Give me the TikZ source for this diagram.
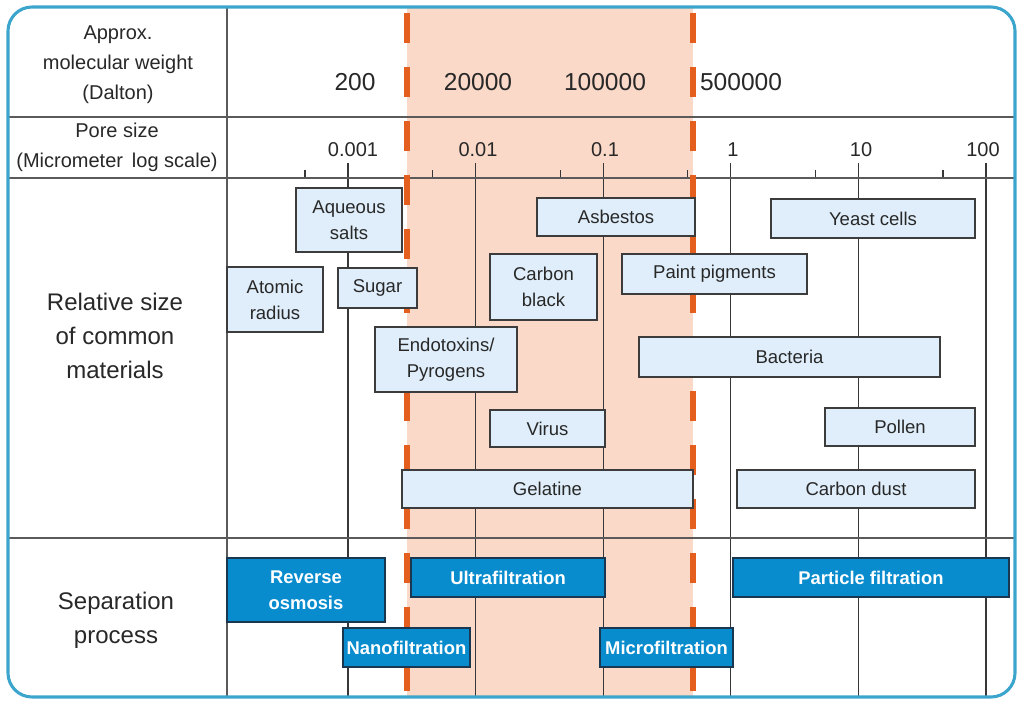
\documentclass[tikz,border=0pt]{standalone}
\usepackage{fontspec}
\setmainfont{Liberation Sans}
\usepackage{xcolor}
\usepackage{tikz}
\usetikzlibrary{positioning}

\definecolor{txt}{RGB}{40,40,40}
\definecolor{gridc}{RGB}{55,55,55}
\definecolor{rulec}{RGB}{90,90,90}
\definecolor{matfill}{RGB}{223,238,250}
\definecolor{boxline}{RGB}{60,60,60}
\definecolor{procfill}{RGB}{8,140,206}
\definecolor{procline}{RGB}{25,55,80}
\definecolor{bandfill}{RGB}{251,217,200}
\definecolor{cutc}{RGB}{228,95,30}
\definecolor{framec}{RGB}{60,165,205}

\begin{document}
\begin{tikzpicture}[
  x=0.75pt, y=-0.75pt,
  sz/.style 2 args={minimum width=#1*0.75pt, minimum height=#2*0.75pt},
  matbox/.style={draw=boxline, fill=matfill, line width=1.1pt, inner sep=0pt,
                 align=center, text=txt, font=\fontsize{13.9}{19.5}\selectfont},
  procbox/.style={draw=procline, fill=procfill, line width=1.1pt, inner sep=0pt,
                  align=center, text=white, font=\fontsize{13.8}{19.5}\selectfont\bfseries},
  hdr/.style={align=center, text=txt, font=\fontsize{15}{22.5}\selectfont},
  side/.style={align=center, text=txt, font=\fontsize{18}{25.5}\selectfont},
  mw/.style={text=txt, font=\fontsize{18.4}{20}\selectfont},
  pore/.style={text=txt, font=\fontsize{15}{18}\selectfont},
  cutline/.style={draw=cutc, line width=3.8pt, dash pattern=on 22.5pt off 18pt},
]

%─── Canvas ──────────────────────────────────────────────────────────────────
\useasboundingbox (0,0) rectangle (1020,702);
\fill[white] (0,0) rectangle (1020,702);

% ultrafiltration band
\fill[bandfill] (407,7) rectangle (693,697);

%─── Log-scale grid ──────────────────────────────────────────────────────────
\foreach \d in {0,...,5} {
  \draw[gridc, line width=0.9pt] ({348+127.6*\d},163) -- ({348+127.6*\d},697);
  \draw[gridc, line width=0.9pt] ({305+127.6*\d},170) -- ({305+127.6*\d},178);
}

% table rules
\draw[rulec, line width=1.5pt] (8,117) -- (1015,117);
\draw[rulec, line width=1.5pt] (8,178) -- (1015,178);
\draw[rulec, line width=1.5pt] (8,538) -- (1015,538);
\draw[rulec, line width=1.5pt] (227,7) -- (227,697);

%─── Header rows ─────────────────────────────────────────────────────────────
\node[hdr] (mwlbl) at (118,65) {Approx.\\molecular weight\\(Dalton)};
\node[mw] (mw1) at (355,82) {200};
\node[mw] (mw2) at (478,82) {20000};
\node[mw] (mw3) at (605,82) {100000};
\node[mw] (mw4) at (741,82) {500000};

\node[hdr] (porelbl) at (117,147) {Pore size\\(Micrometer\, log scale)};
\node[pore] (p1) at (353,150) {0.001};
\node[pore] (p2) at (478,150) {0.01};
\node[pore] (p3) at (605,150) {0.1};
\node[pore] (p4) at (733,150) {1};
\node[pore] (p5) at (861,150) {10};
\node[pore] (p6) at (983,150) {100};

%─── Cut-off lines ───────────────────────────────────────────────────────────
\draw[cutline] (407,13) -- (407,697);
\draw[cutline] (693,13) -- (693,697);

%─── Relative size of common materials ───────────────────────────────────────
\node[side] (matlbl) at (115,336) {Relative size\\of common\\materials};

\node[matbox, sz={106}{64}]  (salts)    at (349,220)   {Aqueous\\salts};
\node[matbox, sz={96}{65}]   (atomic)   at (275,299.5) {Atomic\\radius};
\node[matbox, sz={79}{40}]   (sugar)    at (377.5,288) {Sugar};
\node[matbox, sz={142}{65}]  (endo)     at (446,359.5) {Endotoxins/\\Pyrogens};
\node[matbox, sz={107}{66}]  (cblack)   at (543.5,287) {Carbon\\black};
\node[matbox, sz={158}{38}]  (asbestos) at (616,217)   {Asbestos};
\node[matbox, sz={204}{39}]  (yeast)    at (873,218.5) {Yeast cells};
\node[matbox, sz={185}{40}]  (paint)    at (714.5,274) {Paint pigments};
\node[matbox, sz={301}{40}]  (bact)     at (789.5,357) {Bacteria};
\node[matbox, sz={115}{37}]  (virus)    at (547.5,428.5) {Virus};
\node[matbox, sz={291}{38}]  (gel)      at (547.5,489) {Gelatine};
\node[matbox, sz={150}{38}]  (pollen)   at (900,427)   {Pollen};
\node[matbox, sz={238}{38}]  (cdust)    at (856,489)   {Carbon dust};

%─── Separation process ──────────────────────────────────────────────────────
\node[side] (seplbl) at (116,620) {Separation\\process};

\node[procbox, sz={158}{64}] (ro) at (306,590)     {Reverse\\osmosis};
\node[procbox, sz={194}{39}] (uf) at (508,577.5)   {Ultrafiltration};
\node[procbox, sz={127}{39}] (nf) at (406.5,647.5) {Nanofiltration};
\node[procbox, sz={133}{39}] (mf) at (666.5,647.5) {Microfiltration};
\node[procbox, sz={276}{39}] (pf) at (871,577.5)   {Particle filtration};

%─── Frame ───────────────────────────────────────────────────────────────────
\draw[framec, line width=2.3pt, rounded corners=18pt] (8,7) rectangle (1015,697);

\end{tikzpicture}
\end{document}
